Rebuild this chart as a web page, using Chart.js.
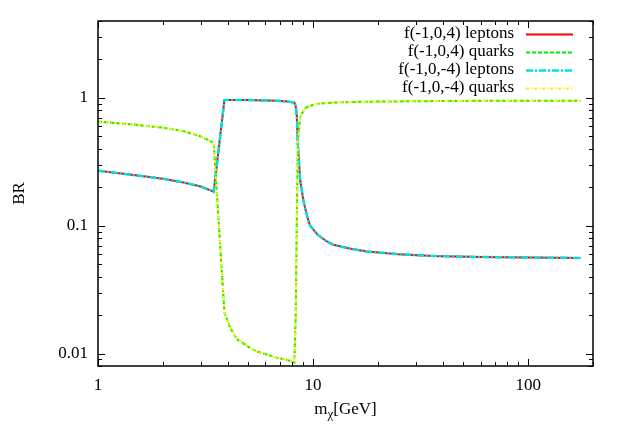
<!DOCTYPE html>
<html>
<head>
<meta charset="utf-8">
<script src="https://cdn.jsdelivr.net/npm/chart.js@4/dist/chart.umd.min.js"></script>
<style>
  body { margin: 0; background: #fff; }
</style>
</head>
<body>
<canvas id="brChart" width="623" height="436"></canvas>
<script>
// dark matter mass in GeV
const mass = [1, 1.5, 2, 2.5, 3, 3.45, 3.87, 4.1, 4.42, 5, 5.47, 6.78, 7.6, 8.18, 8.3, 8.4, 8.5, 8.7, 9.0, 9.2, 9.5, 9.7, 10.5, 11.5, 12.4, 15, 17.8, 25, 36, 60, 100, 175];

const leptonsPos = [0.27, 0.248, 0.233, 0.218, 0.203, 0.185, 0.965, 0.966, 0.965, 0.962, 0.96, 0.95, 0.94, 0.92, 0.86, 0.72, 0.42, 0.23, 0.16, 0.135, 0.11, 0.1, 0.085, 0.076, 0.071, 0.066, 0.063, 0.06, 0.058, 0.057, 0.0565, 0.056];
const quarksPos = [0.653, 0.617, 0.585, 0.55, 0.5, 0.445, 0.021, 0.0162, 0.013, 0.0113, 0.0104, 0.0093, 0.0089, 0.0085, 0.02, 0.12, 0.45, 0.71, 0.79, 0.83, 0.86, 0.87, 0.9, 0.912, 0.92, 0.93, 0.935, 0.94, 0.945, 0.95, 0.952, 0.953];
const leptonsNeg = [0.27, 0.248, 0.233, 0.218, 0.203, 0.185, 0.965, 0.966, 0.965, 0.962, 0.96, 0.95, 0.94, 0.92, 0.86, 0.72, 0.42, 0.23, 0.16, 0.135, 0.11, 0.1, 0.085, 0.076, 0.071, 0.066, 0.063, 0.06, 0.058, 0.057, 0.0565, 0.056];
const quarksNeg = [0.653, 0.617, 0.585, 0.55, 0.5, 0.445, 0.021, 0.0162, 0.013, 0.0113, 0.0104, 0.0093, 0.0089, 0.0085, 0.02, 0.12, 0.45, 0.71, 0.79, 0.83, 0.86, 0.87, 0.9, 0.912, 0.92, 0.93, 0.935, 0.94, 0.945, 0.95, 0.952, 0.953];

const seriesNames = ['f(-1,0,4) leptons', 'f(-1,0,4) quarks', 'f(-1,0,-4) leptons', 'f(-1,0,-4) quarks'];
const xTicks = [1, 10, 100];
const yTicks = [0.01, 0.1, 1];

const colors = ['#ff0000', '#00ee00', '#00e0e0', '#ffee00'];
const dashes = [[], [4, 2], [7, 2, 2, 2], [3, 2, 1, 2]];
const widths = [2, 2, 2.5, 2];

const FONT = '"Liberation Serif", "Times New Roman", serif';

function toPoints(ys) {
  return mass.map((m, i) => ({ x: m, y: ys[i] }));
}

function minorTicks(min, max) {
  const out = [];
  for (let p = Math.floor(Math.log10(min)); p <= Math.ceil(Math.log10(max)); p++) {
    for (let k = 1; k <= 9; k++) {
      const v = k * Math.pow(10, p);
      if (v >= min * 0.999 && v <= max * 1.001) out.push({ v, major: k === 1 });
    }
  }
  return out;
}

// gnuplot style frame with inward ticks on all sides, plus titles and legend
const framePlugin = {
  id: 'frame',
  afterDraw(chart) {
    const { ctx, chartArea: a, scales } = chart;
    const xs = scales.x, ys = scales.y;
    ctx.save();
    ctx.strokeStyle = '#000';
    ctx.lineWidth = 1;
    ctx.setLineDash([]);
    ctx.beginPath();
    minorTicks(xs.min, xs.max).forEach(t => {
      const px = Math.round(xs.getPixelForValue(t.v)) + 0.5;
      const len = t.major ? 7 : 4;
      ctx.moveTo(px, a.bottom); ctx.lineTo(px, a.bottom - len);
      ctx.moveTo(px, a.top); ctx.lineTo(px, a.top + len);
    });
    minorTicks(ys.min, ys.max).forEach(t => {
      const py = Math.round(ys.getPixelForValue(t.v)) + 0.5;
      const len = t.major ? 7 : 4;
      ctx.moveTo(a.left, py); ctx.lineTo(a.left + len, py);
      ctx.moveTo(a.right, py); ctx.lineTo(a.right - len, py);
    });
    ctx.stroke();
    ctx.lineWidth = 1.5;
    ctx.strokeRect(Math.round(a.left), Math.round(a.top), Math.round(a.right - a.left), Math.round(a.bottom - a.top));

    // axis titles
    ctx.fillStyle = '#000';
    ctx.font = '17px ' + FONT;
    ctx.textBaseline = 'alphabetic';
    const cx = (a.left + a.right) / 2;
    const w1 = ctx.measureText('m').width;
    ctx.font = '13px ' + FONT;
    const w2 = ctx.measureText('χ').width;
    ctx.font = '17px ' + FONT;
    const w3 = ctx.measureText('[GeV]').width;
    const x0 = cx - (w1 + w2 + w3) / 2;
    const base = 414;
    ctx.textAlign = 'left';
    ctx.fillText('m', x0, base);
    ctx.font = '13px ' + FONT;
    ctx.fillText('χ', x0 + w1, base + 4);
    ctx.font = '17px ' + FONT;
    ctx.fillText('[GeV]', x0 + w1 + w2, base);

    ctx.save();
    ctx.translate(24, (a.top + a.bottom) / 2);
    ctx.rotate(-Math.PI / 2);
    ctx.textAlign = 'center';
    ctx.fillText('BR', 0, 0);
    ctx.restore();

    // legend inside top right
    ctx.textAlign = 'right';
    ctx.textBaseline = 'middle';
    seriesNames.forEach((name, i) => {
      const y = 34 + i * 18;
      ctx.fillStyle = '#000';
      ctx.fillText(name, 514, y);
      ctx.strokeStyle = colors[i];
      ctx.lineWidth = widths[i];
      ctx.setLineDash(dashes[i]);
      ctx.beginPath();
      ctx.moveTo(526, y + 0.5);
      ctx.lineTo(573, y + 0.5);
      ctx.stroke();
    });
    ctx.restore();
  }
};

const datasets = [leptonsPos, quarksPos, leptonsNeg, quarksNeg].map((ys, i) => ({
  label: seriesNames[i],
  data: toPoints(ys),
  borderColor: colors[i],
  backgroundColor: colors[i],
  borderWidth: widths[i],
  borderDash: dashes[i],
  pointRadius: 0,
  tension: 0,
  fill: false,
  order: 4 - i
}));

const ctx = document.getElementById('brChart').getContext('2d');
const chart = new Chart(ctx, {
  type: 'line',
  data: { datasets: datasets },
  options: {
    responsive: false,
    animation: false,
    layout: { padding: { top: 21, right: 30, left: 0, bottom: 0 } },
    plugins: {
      legend: { display: false },
      tooltip: { enabled: false }
    },
    scales: {
      x: {
        type: 'logarithmic',
        min: 1,
        max: 200,
        grid: { display: false, drawTicks: false },
        border: { display: false },
        afterBuildTicks: (scale) => { scale.ticks = xTicks.map(v => ({ value: v })); },
        afterFit: (scale) => { scale.height = 70; },
        ticks: {
          autoSkip: false,
          maxRotation: 0,
          padding: 9,
          color: '#000',
          font: { family: FONT, size: 17 },
          callback: (v) => String(v)
        }
      },
      y: {
        type: 'logarithmic',
        min: 0.008,
        max: 4,
        grid: { display: false, drawTicks: false },
        border: { display: false },
        afterBuildTicks: (scale) => { scale.ticks = yTicks.map(v => ({ value: v })); },
        afterFit: (scale) => { scale.width = 98; },
        ticks: {
          autoSkip: false,
          padding: 10,
          color: '#000',
          font: { family: FONT, size: 17 },
          callback: (v) => String(v)
        }
      }
    }
  },
  plugins: [framePlugin]
});
</script>
</body>
</html>
